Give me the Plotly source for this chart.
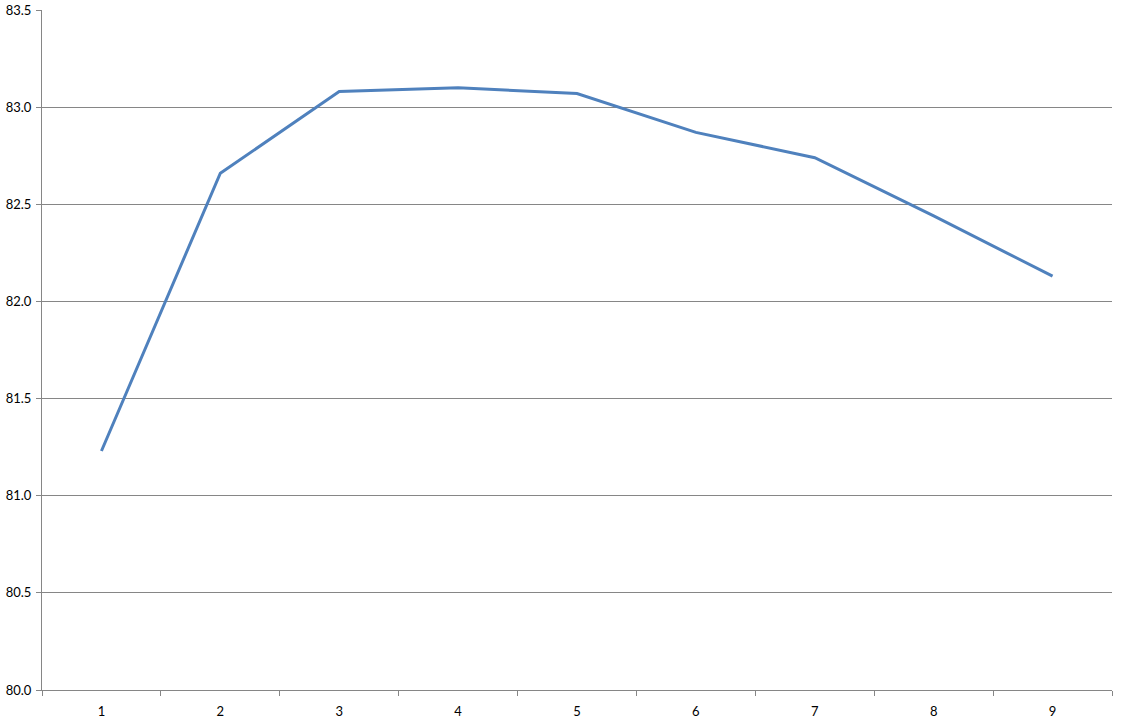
import plotly.graph_objects as go

categories = ['1', '2', '3', '4', '5', '6', '7', '8', '9']
values = [81.23, 82.66, 83.08, 83.10, 83.07, 82.87, 82.74, 82.44, 82.13]

fig = go.Figure(go.Scatter(
    x=categories,
    y=values,
    mode='lines',
    line=dict(color='#4F81BD', width=3),
))

axis_gray = '#868686'

fig.update_layout(
    width=1131,
    height=722,
    margin=dict(l=42, r=19, t=10, b=32, autoexpand=False),
    plot_bgcolor='white',
    paper_bgcolor='white',
    showlegend=False,
    font=dict(family='Lato', size=13, color='black'),
    xaxis=dict(
        type='category',
        range=[-0.5, 8.5],
        automargin=False,
        showgrid=False,
        showline=True,
        linecolor=axis_gray,
        linewidth=1,
        ticks='outside',
        tickson='boundaries',
        ticklen=5,
        tickcolor=axis_gray,
        ticklabelstandoff=9,
        zeroline=False,
    ),
    yaxis=dict(
        range=[80, 83.5],
        dtick=0.5,
        tickformat='.1f',
        automargin=False,
        showgrid=True,
        gridcolor=axis_gray,
        gridwidth=1,
        showline=True,
        linecolor=axis_gray,
        linewidth=1,
        ticks='outside',
        ticklen=5,
        tickcolor=axis_gray,
        ticklabelstandoff=2,
        zeroline=False,
    ),
)

# drop the default 8px body margin so the figure fills the window
fig.write_html(
    "out.html",
    config={'displayModeBar': False},
    post_script="document.body.style.margin='0';document.body.style.overflow='hidden';",
)
